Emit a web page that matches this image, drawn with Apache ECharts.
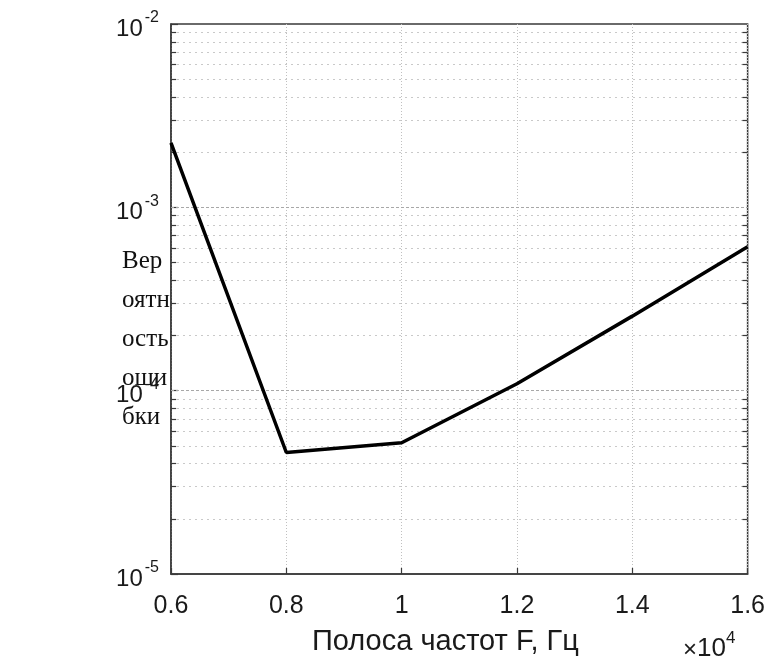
<!DOCTYPE html>
<html>
<head>
<meta charset="utf-8">
<script src="https://cdn.jsdelivr.net/npm/echarts@6/dist/echarts.min.js"></script>
<style>
  html, body { margin: 0; padding: 0; background: #fff; }
  #chart { width: 768px; height: 666px; }
</style>
</head>
<body>
<div id="chart"></div>
<script>
// Bandwidth F, in units of 10^4 Hz
const bandwidth = [0.6, 0.8, 1.0, 1.2, 1.4, 1.6];
// Error probability at each bandwidth
const errorProb = [2.25e-3, 4.6e-5, 5.2e-5, 1.09e-4, 2.55e-4, 6.1e-4];
// Tick labels
const xTickLabels = ['0.6', '0.8', '1', '1.2', '1.4', '1.6'];
const yDecades = [-5, -4, -3, -2];
// Minor log gridlines inside each decade
const minorMultipliers = [2, 3, 4, 5, 6, 7, 8, 9];
// Major horizontal gridlines between the limits
const majorInner = [1e-4, 1e-3];

const yLabel = ['Вер', 'оятн', 'ость', 'оши', 'бки'];

const X_MIN = 0.6, X_MAX = 1.6;
const TICK_W = 0.009; // length of the small inward minor ticks, in x units

const minorValues = [];
yDecades.slice(0, 3).forEach(function (d) {
  minorMultipliers.forEach(function (m) {
    minorValues.push(m * Math.pow(10, d));
  });
});

function hLine(v, x0, x1, style) {
  return [{ coord: [x0, v], lineStyle: style }, { coord: [x1, v] }];
}

const gridMarks = [];
minorValues.forEach(function (v) {
  gridMarks.push(hLine(v, X_MIN, X_MAX, { color: '#c9c9c9', width: 1, type: [2, 4] }));
});
majorInner.forEach(function (v) {
  gridMarks.push(hLine(v, X_MIN, X_MAX, { color: '#a8a8a8', width: 1, type: [3, 2] }));
});
// short inward ticks on the left and right frame at the minor positions
const tickStyle = { color: '#3a3a3a', width: 1.2, type: 'solid' };
minorValues.forEach(function (v) {
  gridMarks.push(hLine(v, X_MIN, X_MIN + TICK_W, tickStyle));
  gridMarks.push(hLine(v, X_MAX - TICK_W, X_MAX, tickStyle));
});

const chart = echarts.init(document.getElementById('chart'), null, { renderer: 'canvas' });

const labelFont = 'Liberation Sans, Arial, sans-serif';

chart.setOption({
  animation: false,
  backgroundColor: '#ffffff',
  grid: {
    left: 171, right: 20, top: 24, bottom: 92,
    show: true, borderColor: '#3a3a3a', borderWidth: 1.5, backgroundColor: 'transparent'
  },
  xAxis: {
    type: 'value',
    min: X_MIN, max: X_MAX, interval: 0.2,
    axisLine: { show: true, lineStyle: { color: '#3a3a3a', width: 1.5 } },
    axisTick: { show: true, inside: true, length: 6, lineStyle: { color: '#3a3a3a', width: 1.2 } },
    axisLabel: {
      color: '#1a1a1a', fontFamily: labelFont, fontSize: 25, margin: 20,
      formatter: function (v) {
        const i = Math.round((v - X_MIN) / 0.2);
        return xTickLabels[i] !== undefined ? xTickLabels[i] : '';
      }
    },
    splitLine: { show: true, lineStyle: { color: '#c0c0c0', width: 1, type: [1, 2] } }
  },
  yAxis: {
    type: 'log', logBase: 10,
    min: 1e-5, max: 1e-2,
    axisLine: { show: true, lineStyle: { color: '#3a3a3a', width: 1.5 } },
    axisTick: { show: true, inside: true, length: 7, lineStyle: { color: '#3a3a3a', width: 1.2 } },
    axisLabel: {
      margin: 12,
      formatter: function (v) {
        const e = Math.round(Math.log10(v));
        return '{b|10}{s|' + e + '}';
      },
      rich: {
        b: { fontFamily: labelFont, fontSize: 24, color: '#1a1a1a', verticalAlign: 'bottom', padding: [10, 2, 0, 0] },
        s: { fontFamily: labelFont, fontSize: 16, color: '#1a1a1a', verticalAlign: 'bottom', padding: [0, 0, 15, 0] }
      }
    },
    splitLine: { show: false }
  },
  graphic: [
    {
      type: 'text', left: 122, top: 242,
      style: {
        text: yLabel.join('\n'), fontFamily: 'Liberation Serif, Times New Roman, serif',
        fontSize: 25, lineHeight: 39, fill: '#111'
      }
    },
    {
      type: 'text', left: 312, top: 627,
      style: { text: 'Полоса частот F, Гц', fontFamily: labelFont, fontSize: 29, fill: '#1a1a1a' }
    },
    {
      type: 'text', left: 683, top: 630,
      style: {
        text: '{m|×}{b|10}{s|4}',
        rich: {
          m: { fontFamily: labelFont, fontSize: 24, fill: '#1a1a1a', verticalAlign: 'bottom' },
          b: { fontFamily: labelFont, fontSize: 26, fill: '#1a1a1a', verticalAlign: 'bottom', padding: [8, 0, 0, 0] },
          s: { fontFamily: labelFont, fontSize: 17, fill: '#1a1a1a', verticalAlign: 'bottom', padding: [0, 0, 15, 0] }
        }
      }
    }
  ],
  series: [
    {
      type: 'line',
      data: bandwidth.map(function (x, i) { return [x, errorProb[i]]; }),
      symbol: 'none',
      lineStyle: { color: '#000', width: 3.5 },
      z: 5,
      markLine: {
        symbol: 'none', silent: true, animation: false,
        label: { show: false },
        emphasis: { disabled: true },
        z: 1,
        data: gridMarks
      }
    }
  ]
});
</script>
</body>
</html>
